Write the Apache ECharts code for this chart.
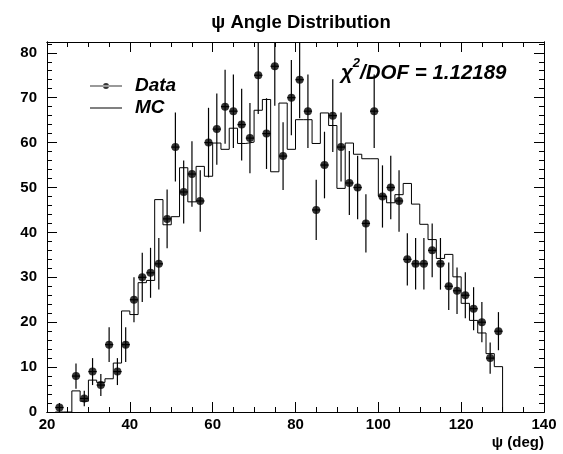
<!DOCTYPE html>
<html><head><meta charset="utf-8">
<script src="https://cdn.jsdelivr.net/npm/echarts@6/dist/echarts.min.js"></script>
<style>html,body{margin:0;padding:0;background:#fff}#c{width:563px;height:454px}</style>
</head><body><div id="c"></div>
<script>
// MC histogram: low edges of 2-degree bins and contents
const mcBinLow = [22,24,26,28,30,32,34,36,38,40,42,44,46,48,50,52,54,56,58,60,62,64,66,68,70,72,74,76,78,80,82,84,86,88,90,92,94,96,98,100,102,104,106,108,110,112,114,116,118,120,122,124,126,128];
const mcValues = [0,0,4.7,2.4,7.1,6.6,7.4,10.9,22.5,21.7,28.8,29.3,47.3,41.7,43.5,54.4,46.8,54.7,52.5,59.9,58.5,63.2,59.8,60.1,67.2,69.6,53.5,68.8,58.5,65.1,65.1,59.8,66.6,63.8,49.8,59.9,57.4,56.4,56.4,48.1,46.6,48.4,50.9,46.3,41.8,38.4,34.2,35.1,30.1,24.2,20.4,17.6,13.0,10.1];
const mcBinWidth = 2;
// Data points: bin centres and counts (null = empty bin)
const dataCenters = [23,25,27,29,31,33,35,37,39,41,43,45,47,49,51,53,55,57,59,61,63,65,67,69,71,73,75,77,79,81,83,85,87,89,91,93,95,97,99,101,103,105,107,109,111,113,115,117,119,121,123,125,127,129];
const dataValues = [1,null,8,3,9,6,15,9,15,25,30,31,33,43,59,49,53,47,60,63,68,67,64,61,75,62,77,57,70,74,67,45,55,66,59,51,50,42,67,48,50,47,34,33,33,36,33,28,27,26,23,20,12,18];
// Axis tick labels
const xTickLabels = [20,40,60,80,100,120,140];
const yTickLabels = [0,10,20,30,40,50,60,70,80];
const xMinorStep = 5, yMinorStep = 2;
const xRange = [20,140], yRange = [0,82.4];

const xMinor = [], yMinor = [];
for (let v = xRange[0]; v <= xRange[1]; v += xMinorStep) if (xTickLabels.indexOf(v) < 0) xMinor.push(v);
for (let v = yRange[0]; v <= yRange[1]; v += yMinorStep) if (yTickLabels.indexOf(v) < 0) yMinor.push(v);

const FONT = "'Liberation Sans', Arial, Helvetica, sans-serif";
const black = '#000';

const mcLine = mcBinLow.map((x, i) => [x, mcValues[i]]);
const lastEdge = mcBinLow[mcBinLow.length - 1] + mcBinWidth;
mcLine.push([lastEdge, mcValues[mcValues.length - 1]]);
mcLine.push([lastEdge, 0]);

const pts = [];
dataCenters.forEach((x, i) => { if (dataValues[i] !== null) pts.push([x, dataValues[i]]); });

function mkX(pos, ticks, len, labels) {
  return {
    type: 'value', min: xRange[0], max: xRange[1], position: pos,
    axisLine: { show: true, onZero: false, lineStyle: { color: black, width: 1 } },
    axisTick: { show: true, inside: true, length: len, customValues: ticks, lineStyle: { color: black, width: 1 } },
    axisLabel: labels ? { show: true, customValues: xTickLabels, color: black, fontSize: 15, fontWeight: 'bold', fontFamily: FONT, margin: 5 } : { show: false },
    splitLine: { show: false }
  };
}
function mkY(pos, ticks, len, labels) {
  return {
    type: 'value', min: yRange[0], max: yRange[1], position: pos,
    axisLine: { show: true, onZero: false, lineStyle: { color: black, width: 1 } },
    axisTick: { show: true, inside: true, length: len, customValues: ticks, lineStyle: { color: black, width: 1 } },
    axisLabel: labels ? { show: true, customValues: yTickLabels, color: black, fontSize: 15, fontWeight: 'bold', fontFamily: FONT, margin: 10 } : { show: false },
    splitLine: { show: false }
  };
}

const xMain = mkX('bottom', xTickLabels, 10, true);
xMain.name = 'ψ (deg)';
xMain.nameLocation = 'end';
xMain.nameGap = 0;
xMain.nameTextStyle = { align: 'right', verticalAlign: 'top', padding: [23, 0, 0, 0], color: black, fontSize: 15, fontWeight: 'bold', fontFamily: FONT };

const chart = echarts.init(document.getElementById('c'), null, { renderer: 'canvas' });
chart.setOption({
  animation: false,
  backgroundColor: '#fff',
  title: [
    { text: 'ψ Angle Distribution', left: 296, textAlign: 'center', top: 8, textStyle: { color: black, fontSize: 18.5, fontWeight: 'bold', fontFamily: FONT } },
    { text: '{c|χ}{s|2}{c|/DOF = 1.12189}', left: 336, top: 52,
      textStyle: { rich: {
        c: { fontSize: 20.5, fontWeight: 'bold', fontStyle: 'italic', fontFamily: FONT, color: black, lineHeight: 26, verticalAlign: 'bottom' },
        s: { fontSize: 13, fontWeight: 'bold', fontStyle: 'italic', fontFamily: FONT, color: black, lineHeight: 26, verticalAlign: 'top' }
      } } }
  ],
  legend: {
    orient: 'vertical', left: 85, top: 71, itemWidth: 32, itemHeight: 10, itemGap: 2,
    textStyle: { color: black, fontSize: 19, fontWeight: 'bold', fontStyle: 'italic', fontFamily: FONT, lineHeight: 20, padding: [0, 0, 0, 8] },
    data: [
      { name: 'Data', icon: 'path://M0,4.5 L32,4.5 L32,5.5 L0,5.5 Z M13,5 A3,3 0 1,0 19,5 A3,3 0 1,0 13,5 Z', itemStyle: { color: black } },
      { name: 'MC', icon: 'path://M0,4.5 L32,4.5 L32,5.5 L0,5.5 Z', itemStyle: { color: black } }
    ]
  },
  grid: { left: 47, right: 19, top: 42, bottom: 42, containLabel: false },
  xAxis: [ xMain, mkX('bottom', xMinor, 5, false), mkX('top', xTickLabels, 10, false), mkX('top', xMinor, 5, false) ],
  yAxis: [ mkY('left', yTickLabels, 10, true), mkY('left', yMinor, 5, false), mkY('right', yTickLabels, 10, false), mkY('right', yMinor, 5, false) ],
  series: [
    { name: 'MC', type: 'line', step: 'end', data: mcLine, symbol: 'none', showSymbol: false,
      lineStyle: { color: black, width: 1 }, itemStyle: { color: black }, z: 2, clip: true },
    { name: 'Data err', type: 'custom', data: pts, z: 3, clip: true,
      renderItem: function (params, api) {
        const x = api.value(0), y = api.value(1), e = Math.sqrt(y);
        const cs = params.coordSys;
        const c = api.coord([x, y]);
        let top = api.coord([x, y + e])[1], bot = api.coord([x, y - e])[1];
        top = Math.max(top, cs.y); bot = Math.min(bot, cs.y + cs.height);
        const l = api.coord([x - mcBinWidth / 2, y])[0], r = api.coord([x + mcBinWidth / 2, y])[0];
        return { type: 'group', children: [
          { type: 'line', shape: { x1: c[0], y1: top, x2: c[0], y2: bot }, style: { stroke: black, lineWidth: 1.2 } },
          { type: 'line', shape: { x1: l, y1: c[1], x2: r, y2: c[1] }, style: { stroke: black, lineWidth: 1.2 } }
        ] };
      }
    },
    { name: 'Data', type: 'scatter', data: pts, symbol: 'circle', symbolSize: 8, itemStyle: { color: black }, z: 4 }
  ]
});
</script>
</body></html>
